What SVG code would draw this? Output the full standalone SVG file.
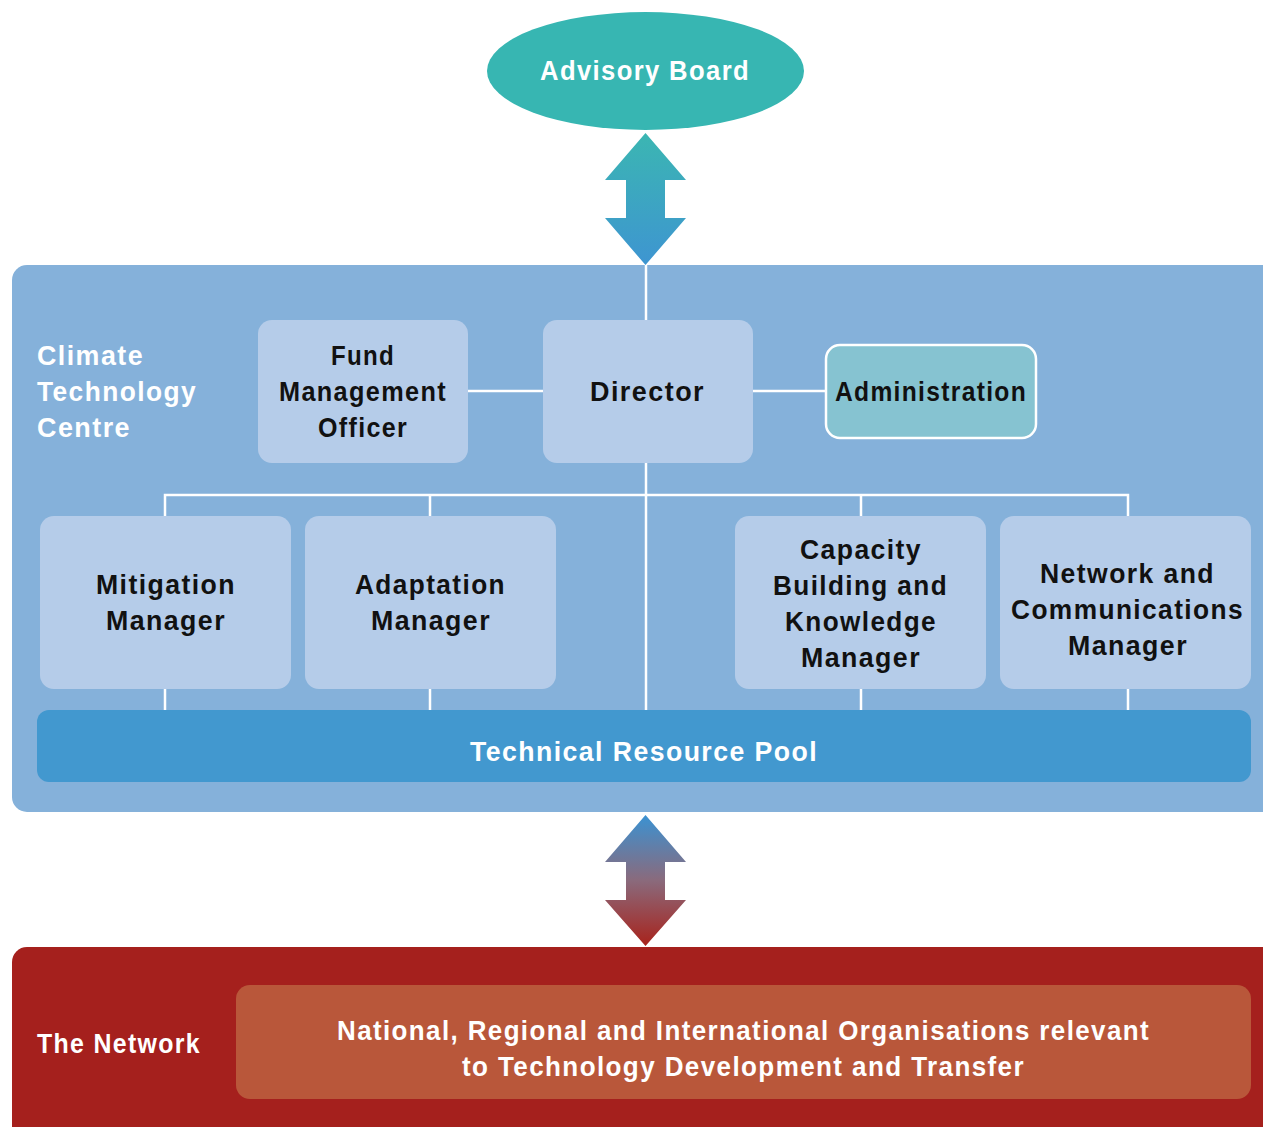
<svg xmlns="http://www.w3.org/2000/svg" width="1263" height="1127" viewBox="0 0 1263 1127">
<defs>
<linearGradient id="gTop" x1="0" y1="0" x2="0" y2="1">
<stop offset="0" stop-color="#3bb6b2"/>
<stop offset="1" stop-color="#3e95d1"/>
</linearGradient>
<linearGradient id="gBot" x1="0" y1="0" x2="0" y2="1">
<stop offset="0" stop-color="#3b92d2"/>
<stop offset="0.5" stop-color="#8a6a7c"/>
<stop offset="1" stop-color="#a8231c"/>
</linearGradient>
<style>
.node{fill:#b5cce9}
.t{font-family:"Liberation Sans",Arial,sans-serif;font-weight:bold;font-size:28px;letter-spacing:1.5px;text-anchor:middle;fill:#111}
.w{fill:#fff}
.l{text-anchor:start}
.ln{stroke:#fff;stroke-width:2.5;fill:none}
</style>
</defs>
<rect width="1263" height="1127" fill="#fff"/>

<g id="advisory-board">
<ellipse cx="645.5" cy="71" rx="158.5" ry="59" fill="#37b6b2"/>
<text class="t w" x="645" y="80" textLength="210" lengthAdjust="spacingAndGlyphs">Advisory Board</text>
</g>

<g id="ctc-panel">
<rect x="12" y="265" width="1300" height="547" rx="15" fill="#85b1da"/>
<text class="t w l" x="37" y="365" textLength="107" lengthAdjust="spacingAndGlyphs">Climate</text>
<text class="t w l" x="37" y="401" textLength="160" lengthAdjust="spacingAndGlyphs">Technology</text>
<text class="t w l" x="37" y="437" textLength="94" lengthAdjust="spacingAndGlyphs">Centre</text>
</g>

<g id="network-panel">
<rect x="12" y="947" width="1300" height="200" rx="15" fill="#a5201d"/>
<text class="t w l" x="37" y="1053" textLength="164" lengthAdjust="spacingAndGlyphs">The Network</text>
</g>

<g id="connectors">
<path d="M645.5 133 L686 180 L665 180 L665 218 L686 218 L645.5 265 L605 218 L626 218 L626 180 L605 180 Z" fill="url(#gTop)"/>
<path d="M645.5 815 L686 862 L665 862 L665 900 L686 900 L645.5 946 L605 900 L626 900 L626 862 L605 862 Z" fill="url(#gBot)"/>
<path class="ln" d="M646 265 V710"/>
<path class="ln" d="M468 391 H543 M753 391 H825"/>
<path class="ln" d="M165 516 V495 H1128 V516 M430 495 V516 M861 495 V516"/>
<path class="ln" d="M165 689 V710 M430 689 V710 M861 689 V710 M1128 689 V710"/>
</g>

<g id="fund-management-officer">
<rect class="node" x="258" y="320" width="210" height="143" rx="14"/>
<text class="t" x="363" y="365" textLength="64" lengthAdjust="spacingAndGlyphs">Fund</text>
<text class="t" x="363" y="401" textLength="168" lengthAdjust="spacingAndGlyphs">Management</text>
<text class="t" x="363" y="437" textLength="90" lengthAdjust="spacingAndGlyphs">Officer</text>
</g>

<g id="director">
<rect class="node" x="543" y="320" width="210" height="143" rx="14"/>
<text class="t" x="647.5" y="401" textLength="115" lengthAdjust="spacingAndGlyphs">Director</text>
</g>

<g id="administration">
<rect x="826" y="345" width="210" height="93" rx="14" fill="#86c3d1" stroke="#fff" stroke-width="2.5"/>
<text class="t" x="931" y="401" textLength="192" lengthAdjust="spacingAndGlyphs">Administration</text>
</g>

<g id="mitigation-manager">
<rect class="node" x="40" y="516" width="251" height="173" rx="14"/>
<text class="t" x="166" y="594" textLength="140" lengthAdjust="spacingAndGlyphs">Mitigation</text>
<text class="t" x="166" y="630" textLength="120" lengthAdjust="spacingAndGlyphs">Manager</text>
</g>

<g id="adaptation-manager">
<rect class="node" x="305" y="516" width="251" height="173" rx="14"/>
<text class="t" x="430.5" y="594" textLength="151" lengthAdjust="spacingAndGlyphs">Adaptation</text>
<text class="t" x="431" y="630" textLength="120" lengthAdjust="spacingAndGlyphs">Manager</text>
</g>

<g id="capacity-building-manager">
<rect class="node" x="735" y="516" width="251" height="173" rx="14"/>
<text class="t" x="861" y="559" textLength="122" lengthAdjust="spacingAndGlyphs">Capacity</text>
<text class="t" x="860.5" y="595" textLength="175" lengthAdjust="spacingAndGlyphs">Building and</text>
<text class="t" x="861" y="631" textLength="152" lengthAdjust="spacingAndGlyphs">Knowledge</text>
<text class="t" x="861" y="667" textLength="120" lengthAdjust="spacingAndGlyphs">Manager</text>
</g>

<g id="network-communications-manager">
<rect class="node" x="1000" y="516" width="251" height="173" rx="14"/>
<text class="t" x="1127.5" y="583" textLength="175" lengthAdjust="spacingAndGlyphs">Network and</text>
<text class="t" x="1127.5" y="619" textLength="233" lengthAdjust="spacingAndGlyphs">Communications</text>
<text class="t" x="1128" y="655" textLength="120" lengthAdjust="spacingAndGlyphs">Manager</text>
</g>

<g id="technical-resource-pool">
<rect x="37" y="710" width="1214" height="72" rx="12" fill="#4298cf"/>
<text class="t w" x="644" y="761" textLength="348" lengthAdjust="spacingAndGlyphs">Technical Resource Pool</text>
</g>

<g id="organisations">
<rect x="236" y="985" width="1015" height="114" rx="14" fill="#b9573a"/>
<text class="t w" x="743.5" y="1040" textLength="813" lengthAdjust="spacingAndGlyphs">National, Regional and International Organisations relevant</text>
<text class="t w" x="743.5" y="1076" textLength="563" lengthAdjust="spacingAndGlyphs">to Technology Development and Transfer</text>
</g>
</svg>
